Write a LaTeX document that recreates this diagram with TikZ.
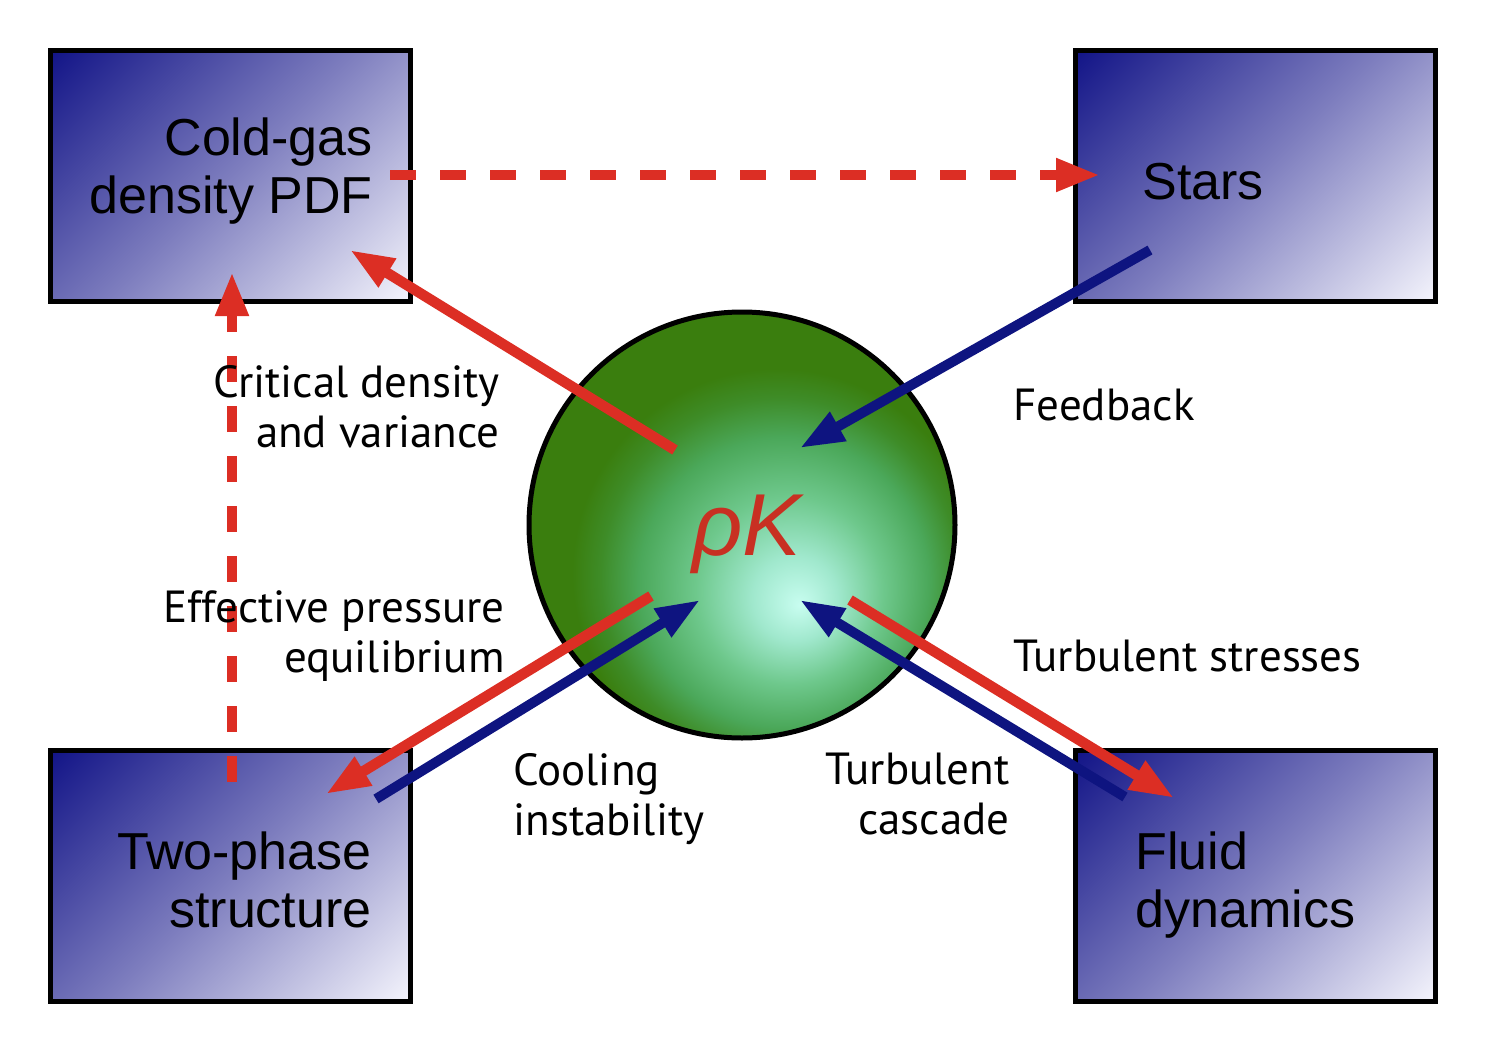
\documentclass[tikz,border=0pt]{standalone}
\usepackage{fontspec}
\setmainfont{Liberation Sans}
\newfontfamily\labfont{PT Sans}
\usetikzlibrary{arrows.meta}
\definecolor{arrred}{RGB}{220,46,36}
\definecolor{arrblue}{RGB}{14,20,128}
\definecolor{boxdark}{RGB}{18,20,135}
\definecolor{boxmid}{RGB}{125,125,190}
\definecolor{boxlight}{RGB}{244,244,252}
\definecolor{rkred}{RGB}{200,48,34}
\definecolor{gbA}{RGB}{200,253,240}
\definecolor{gbB}{RGB}{160,232,205}
\definecolor{gbC}{RGB}{110,200,140}
\definecolor{gbD}{RGB}{75,168,90}
\definecolor{gbE}{RGB}{62,140,40}
\definecolor{gbF}{RGB}{58,126,14}
\pgfdeclareradialshading{greenball}{\pgfpoint{6.8bp}{-9.4bp}}{%
  color(0bp)=(gbA); color(5bp)=(gbB); color(11bp)=(gbC); color(17bp)=(gbD);
  color(21bp)=(gbE); color(24bp)=(gbF); color(60bp)=(gbF)}
\pgfdeclareverticalshading{boxgrad}{100bp}{%
  color(0bp)=(boxlight); color(14.6bp)=(boxlight); color(50bp)=(boxmid);
  color(85.4bp)=(boxdark); color(100bp)=(boxdark)}
\begin{document}
\begin{tikzpicture}[x=0.5pt,y=-0.5pt,
  box/.style={draw=black, line width=2.5pt, rectangle, minimum width=180pt, minimum height=125.5pt,
    inner sep=0pt, shading=boxgrad, shading angle=45},
  ball/.style={draw=black, line width=2.5pt, circle, minimum size=213pt, inner sep=0pt, shading=greenball},
  boxtext/.style={inner sep=0pt, font=\fontsize{26}{29}\selectfont},
  lab/.style={inner sep=0pt, font=\labfont\fontsize{22.5}{25}\selectfont},
  redarrow/.style={draw=arrred, line width=5.25pt, -{Triangle[length=22pt,width=15.5pt]}},
  bluearrow/.style={draw=arrblue, line width=5pt, -{Triangle[length=22pt,width=15.5pt]}},
  reddash/.style={redarrow, dash pattern=on 13pt off 12pt}
]
\useasboundingbox (0,0) rectangle (1485,1050);
% boxes
\node[box] (cold) at (230.5,175.5) {};
\node[box] (stars) at (1255.5,175.5) {};
\node[box] (two) at (230.5,875.5) {};
\node[box] (fluid) at (1255.5,875.5) {};
% central ball
\node[ball] (rho) at (742,525) {};
% connector end points
\coordinate (dhs) at (390,175);
\coordinate (dhe) at (1100,175);
\coordinate (dvs) at (232,782);
\coordinate (dve) at (232,272);
\coordinate (r1s) at (675,450);
\coordinate (r1e) at (350,250);
\coordinate (b1s) at (1150,250);
\coordinate (b1e) at (800,448);
\coordinate (r2s) at (651,596);
\coordinate (r2e) at (326,794);
\coordinate (b2s) at (376,799);
\coordinate (b2e) at (700,600);
\coordinate (b3s) at (1125,797);
\coordinate (b3e) at (800,600);
\coordinate (r3s) at (850,600);
\coordinate (r3e) at (1174,798);
% dashed arrows
\draw[reddash] (dhs) -- (dhe);
\draw[reddash] (dvs) -- (dve);
% solid arrows
\draw[redarrow] (r1s) -- (r1e);
\draw[bluearrow] (b1s) -- (b1e);
\draw[redarrow] (r2s) -- (r2e);
\draw[bluearrow] (b2s) -- (b2e);
\draw[bluearrow] (b3s) -- (b3e);
\draw[redarrow] (r3s) -- (r3e);
% box texts
\node[boxtext, anchor=base east] (coldt) at (373,155) {\begin{tabular}[t]{@{}r@{}}Cold-gas\\density PDF\end{tabular}};
\node[boxtext, anchor=base west] (starst) at (1142,199) {Stars};
\node[boxtext, anchor=base east] (twot) at (372,869) {\begin{tabular}[t]{@{}r@{}}Two-phase\\structure\end{tabular}};
\node[boxtext, anchor=base west] (fluidt) at (1135,869) {\begin{tabular}[t]{@{}l@{}}Fluid\\dynamics\end{tabular}};
% rho K
\node[inner sep=0pt, anchor=base west, text=rkred, font=\fontsize{44}{44}\selectfont\itshape] (rk) at (692,555) {ρK};
% labels
\node[lab, anchor=base east] (critl) at (500,397) {\begin{tabular}[t]{@{}r@{}}Critical density\\and variance\end{tabular}};
\node[lab, anchor=base west] (feedl) at (1013,420) {Feedback};
\node[lab, anchor=base east] (effl) at (505,622) {\begin{tabular}[t]{@{}r@{}}Effective pressure\\equilibrium\end{tabular}};
\node[lab, anchor=base west] (tstrl) at (1013,671) {Turbulent stresses};
\node[lab, anchor=base west] (cooll) at (513,785) {\begin{tabular}[t]{@{}l@{}}Cooling\\instability\end{tabular}};
\node[lab, anchor=base east] (tcasl) at (1010,784) {\begin{tabular}[t]{@{}r@{}}Turbulent\\cascade\end{tabular}};
\end{tikzpicture}
\end{document}
